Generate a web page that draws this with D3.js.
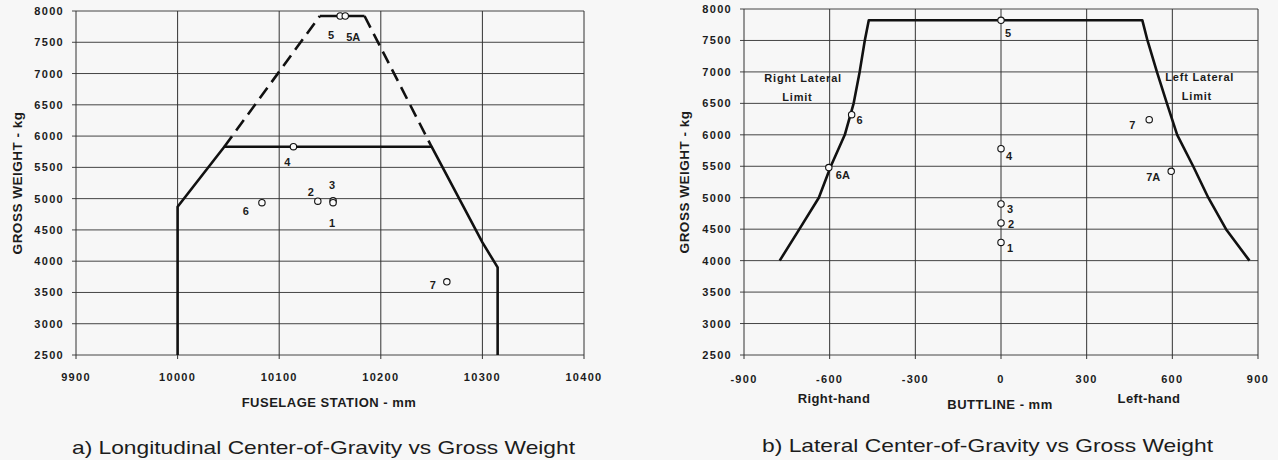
<!DOCTYPE html>
<html>
<head>
<meta charset="utf-8">
<script src="https://cdn.jsdelivr.net/npm/d3@7"></script>
<style>
  html, body { margin: 0; padding: 0; background: #f7f7f7; }
  svg { display: block; }
  text { font-family: "Liberation Sans", Arial, Helvetica, sans-serif; fill: #1c1c1c; }
  .tick-label { font-size: 11px; font-weight: bold; letter-spacing: 1.3px; }
  .axis-title { font-size: 13px; font-weight: bold; letter-spacing: 0.5px; }
  .side-label { font-size: 13px; font-weight: bold; letter-spacing: 0.4px; }
  .pt-label { font-size: 11px; font-weight: bold; }
  .note { font-size: 11px; font-weight: bold; letter-spacing: 0.8px; }
  .caption { font-size: 19px; }
  .grid { stroke: #444; stroke-width: 1; }
  .env { fill: none; stroke: #111; stroke-width: 2.6; stroke-linejoin: round; }
</style>
</head>
<body>
<div id="chart"></div>
<script>
// ---- data ----
const weightTicks = [2500, 3000, 3500, 4000, 4500, 5000, 5500, 6000, 6500, 7000, 7500, 8000]
const stationTicks = [9900, 10000, 10100, 10200, 10300, 10400]
const buttlineTicks = [-900, -600, -300, 0, 300, 600, 900]

// a) longitudinal envelope (fuselage station mm, gross weight kg)
const longEnvelope = [[10000, 2500], [10000, 4870], [10046, 5830], [10250, 5830], [10300, 4300], [10315, 3900], [10315, 2500]]
const longDashedFwd = [[10046, 5830], [10140, 7920]]
const longDashedAft = [[10184, 7920], [10250, 5830]]
const longTop = [[10140, 7920], [10184, 7920]]
const longPoints = [
  { label: '5', x: 10160, w: 7920 },
  { label: '5A', x: 10165, w: 7920 },
  { label: '4', x: 10114, w: 5830 },
  { label: '2', x: 10138, w: 4960 },
  { label: '3', x: 10153, w: 4965 },
  { label: '1', x: 10153, w: 4935 },
  { label: '6', x: 10083, w: 4935 },
  { label: '7', x: 10265, w: 3670 }
]

// b) lateral envelope (buttline mm, gross weight kg)
const latEnvelope = [[-775, 4000], [-706, 4500], [-638, 5000], [-596, 5500], [-547, 6000], [-516, 6500], [-495, 7000], [-477, 7500], [-463, 7820],
  [495, 7820], [513, 7500], [546, 7000], [581, 6500], [617, 6000], [673, 5500], [726, 5000], [788, 4500], [870, 4000]]
const latPoints = [
  { label: '5', x: 0, w: 7820 },
  { label: '4', x: 0, w: 5780 },
  { label: '3', x: 0, w: 4900 },
  { label: '2', x: 0, w: 4600 },
  { label: '1', x: 0, w: 4290 },
  { label: '6', x: -523, w: 6320 },
  { label: '6A', x: -603, w: 5480 },
  { label: '7', x: 519, w: 6240 },
  { label: '7A', x: 596, w: 5420 }
]
const latNotes = [
  { text: 'Right Lateral', x: -693, w: 6900 },
  { text: 'Limit', x: -713, w: 6600 },
  { text: 'Left Lateral', x: 696, w: 6915 },
  { text: 'Limit', x: 686, w: 6620 }
]

// ---- drawing ----
const width = 1278, height = 460
const svg = d3.select('#chart').append('svg')
  .attr('width', width).attr('height', height)

svg.append('rect').attr('width', width).attr('height', height).attr('fill', '#f7f7f7')

function drawFrame(g, x, y, xTicks, yTitleX, xLabelY) {
  const [x0, x1] = x.range()
  const [y0, y1] = y.range()

  // horizontal grid
  g.append('g').selectAll('line').data(weightTicks).join('line')
    .attr('class', 'grid')
    .attr('x1', x0 - 4).attr('x2', x1)
    .attr('y1', d => y(d)).attr('y2', d => y(d))

  // vertical grid
  g.append('g').selectAll('line').data(xTicks).join('line')
    .attr('class', 'grid')
    .attr('stroke-width', 1.3)
    .style('stroke', '#333')
    .attr('x1', d => x(d)).attr('x2', d => x(d))
    .attr('y1', y1).attr('y2', y0 + 4)

  // y tick labels
  g.append('g').selectAll('text').data(weightTicks).join('text')
    .attr('class', 'tick-label')
    .attr('text-anchor', 'end')
    .attr('x', x0 - 12)
    .attr('y', d => y(d))
    .attr('dy', '0.36em')
    .text(d => d)

  // x tick labels
  g.append('g').selectAll('text').data(xTicks).join('text')
    .attr('class', 'tick-label')
    .attr('text-anchor', 'middle')
    .attr('x', d => x(d))
    .attr('y', xLabelY)
    .attr('dy', '0.36em')
    .text(d => d)

  g.append('text')
    .attr('class', 'axis-title')
    .style('font-size', '13.5px')
    .attr('text-anchor', 'middle')
    .attr('transform', `translate(${yTitleX},${(y0 + y1) / 2}) rotate(-90)`)
    .attr('dy', '0.36em')
    .text('GROSS WEIGHT - kg')
}

function drawPoints(g, x, y, points, offsets) {
  g.append('g').selectAll('circle').data(points).join('circle')
    .attr('cx', d => x(d.x)).attr('cy', d => y(d.w))
    .attr('r', 3.2)
    .attr('fill', '#fafafa')
    .attr('stroke', '#111')
    .attr('stroke-width', 1.1)

  g.append('g').selectAll('text').data(points).join('text')
    .attr('class', 'pt-label')
    .attr('text-anchor', 'middle')
    .attr('x', d => x(d.x) + offsets[d.label][0])
    .attr('y', d => y(d.w) + offsets[d.label][1])
    .attr('dy', '0.36em')
    .text(d => d.label)
}

const line = (x, y) => d3.line().x(d => x(d[0])).y(d => y(d[1]))

// ---- panel a ----
{
  const x = d3.scaleLinear().domain([9900, 10400]).range([76, 584])
  const y = d3.scaleLinear().domain([2500, 8000]).range([355, 11])
  const g = svg.append('g')
  drawFrame(g, x, y, stationTicks, 17, 377)

  const path = line(x, y)
  g.append('path').attr('class', 'env').attr('d', path(longEnvelope))
  g.append('path').attr('class', 'env').attr('stroke-dasharray', '13,7').attr('d', path(longDashedFwd))
  g.append('path').attr('class', 'env').attr('stroke-dasharray', '13,7').attr('d', path(longDashedAft))
  g.append('path').attr('class', 'env').attr('stroke-width', 1.6).attr('d', path(longTop))

  const offsets = { '5': [-9, 19], '5A': [8, 21], '4': [-6, 15], '2': [-7, -9], '3': [-1, -16], '1': [-1, 20], '6': [-16, 8], '7': [-14, 3] }
  drawPoints(g, x, y, longPoints, offsets)

  g.append('text').attr('class', 'axis-title').attr('text-anchor', 'middle')
    .attr('x', 329).attr('y', 407).text('FUSELAGE STATION - mm')

  g.append('text').attr('class', 'caption')
    .attr('x', 72).attr('y', 454)
    .attr('textLength', 503).attr('lengthAdjust', 'spacingAndGlyphs')
    .text('a)  Longitudinal Center-of-Gravity vs Gross Weight')
}

// ---- panel b ----
{
  const x = d3.scaleLinear().domain([-900, 900]).range([744, 1258])
  const y = d3.scaleLinear().domain([2500, 8000]).range([355, 9])
  const g = svg.append('g')
  drawFrame(g, x, y, buttlineTicks, 684, 379)

  g.append('path').attr('class', 'env').attr('d', line(x, y)(latEnvelope))

  const offsets = { '5': [7, 13], '4': [8, 7], '3': [9, 5], '2': [10, 1], '1': [9, 6], '6': [8, 5], '6A': [14, 8], '7': [-17, 5], '7A': [-18, 6] }
  drawPoints(g, x, y, latPoints, offsets)

  g.append('g').selectAll('text').data(latNotes).join('text')
    .attr('class', 'note')
    .attr('text-anchor', 'middle')
    .attr('x', d => x(d.x)).attr('y', d => y(d.w))
    .attr('dy', '0.36em')
    .text(d => d.text)

  g.append('text').attr('class', 'side-label').attr('text-anchor', 'middle')
    .attr('x', 834).attr('y', 403).text('Right-hand')
  g.append('text').attr('class', 'side-label').attr('text-anchor', 'middle')
    .attr('x', 1149).attr('y', 403).text('Left-hand')
  g.append('text').attr('class', 'axis-title').attr('text-anchor', 'middle')
    .attr('x', 1000).attr('y', 409).text('BUTTLINE - mm')

  g.append('text').attr('class', 'caption')
    .attr('x', 762).attr('y', 452)
    .attr('textLength', 451).attr('lengthAdjust', 'spacingAndGlyphs')
    .text('b)  Lateral Center-of-Gravity vs Gross Weight')
}
</script>
</body>
</html>
